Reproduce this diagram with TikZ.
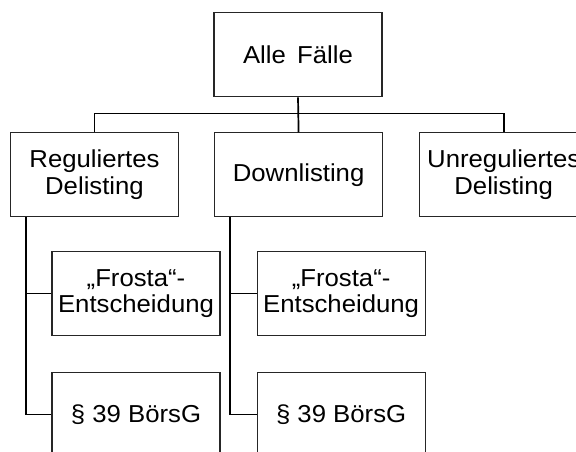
\documentclass[tikz,border=0pt]{standalone}
\usepackage{fontspec}
\setmainfont{Liberation Sans}[FakeStretch=1.05]
\usetikzlibrary{positioning}

\tikzset{
	fall/.style = {draw = black!85, line width = 1.1pt, fill = white,
		minimum width = 168pt, minimum height = 84pt, inner sep = 0pt,
		align = center, font = \fontsize{24.5}{26.7}\selectfont},
	ast/.style = {line width = 1.7pt, black}
}

\begin{document}
\begin{tikzpicture}[x = 1pt, y = -1pt]

	\useasboundingbox (0, 0) rectangle (576, 451);
	\clip (0, 0) rectangle (576, 451);

	\node [fall] (alle) at (298, 54.75) {Alle\, Fälle};

	\node [fall] (reg) at (94.5, 174.85) {Reguliertes\\Delisting};
	\node [fall, right = 35pt of reg] (down) {Downlisting};
	\node [fall, right = 36pt of down] (unreg) {Unreguliertes\\Delisting};

	\node [fall] (frostaA) at (136, 293.5) {„Frosta“-\\Entscheidung};
	\node [fall, below = 36pt of frostaA] (boersgA) {§ 39 BörsG};
	\node [fall, right = 36pt of frostaA] (frostaB) {„Frosta“-\\Entscheidung};
	\node [fall, below = 36pt of frostaB] (boersgB) {§ 39 BörsG};

	\coordinate (bar) at (0, 113.5);
	\coordinate (stemA) at ([xshift = 16pt] reg.south west);
	\coordinate (stemB) at ([xshift = 16pt] down.south west);

	\begin{scope}[ast]

		\draw (alle.south) -- (down.north);
		\draw (reg.north) |- (bar -| down.north) -| (unreg.north);

		\draw (stemA) |- (boersgA.west);
		\draw (frostaA.west) -- (frostaA.west -| stemA);

		\draw (stemB) |- (boersgB.west);
		\draw (frostaB.west) -- (frostaB.west -| stemB);

	\end{scope}

\end{tikzpicture}
\end{document}
